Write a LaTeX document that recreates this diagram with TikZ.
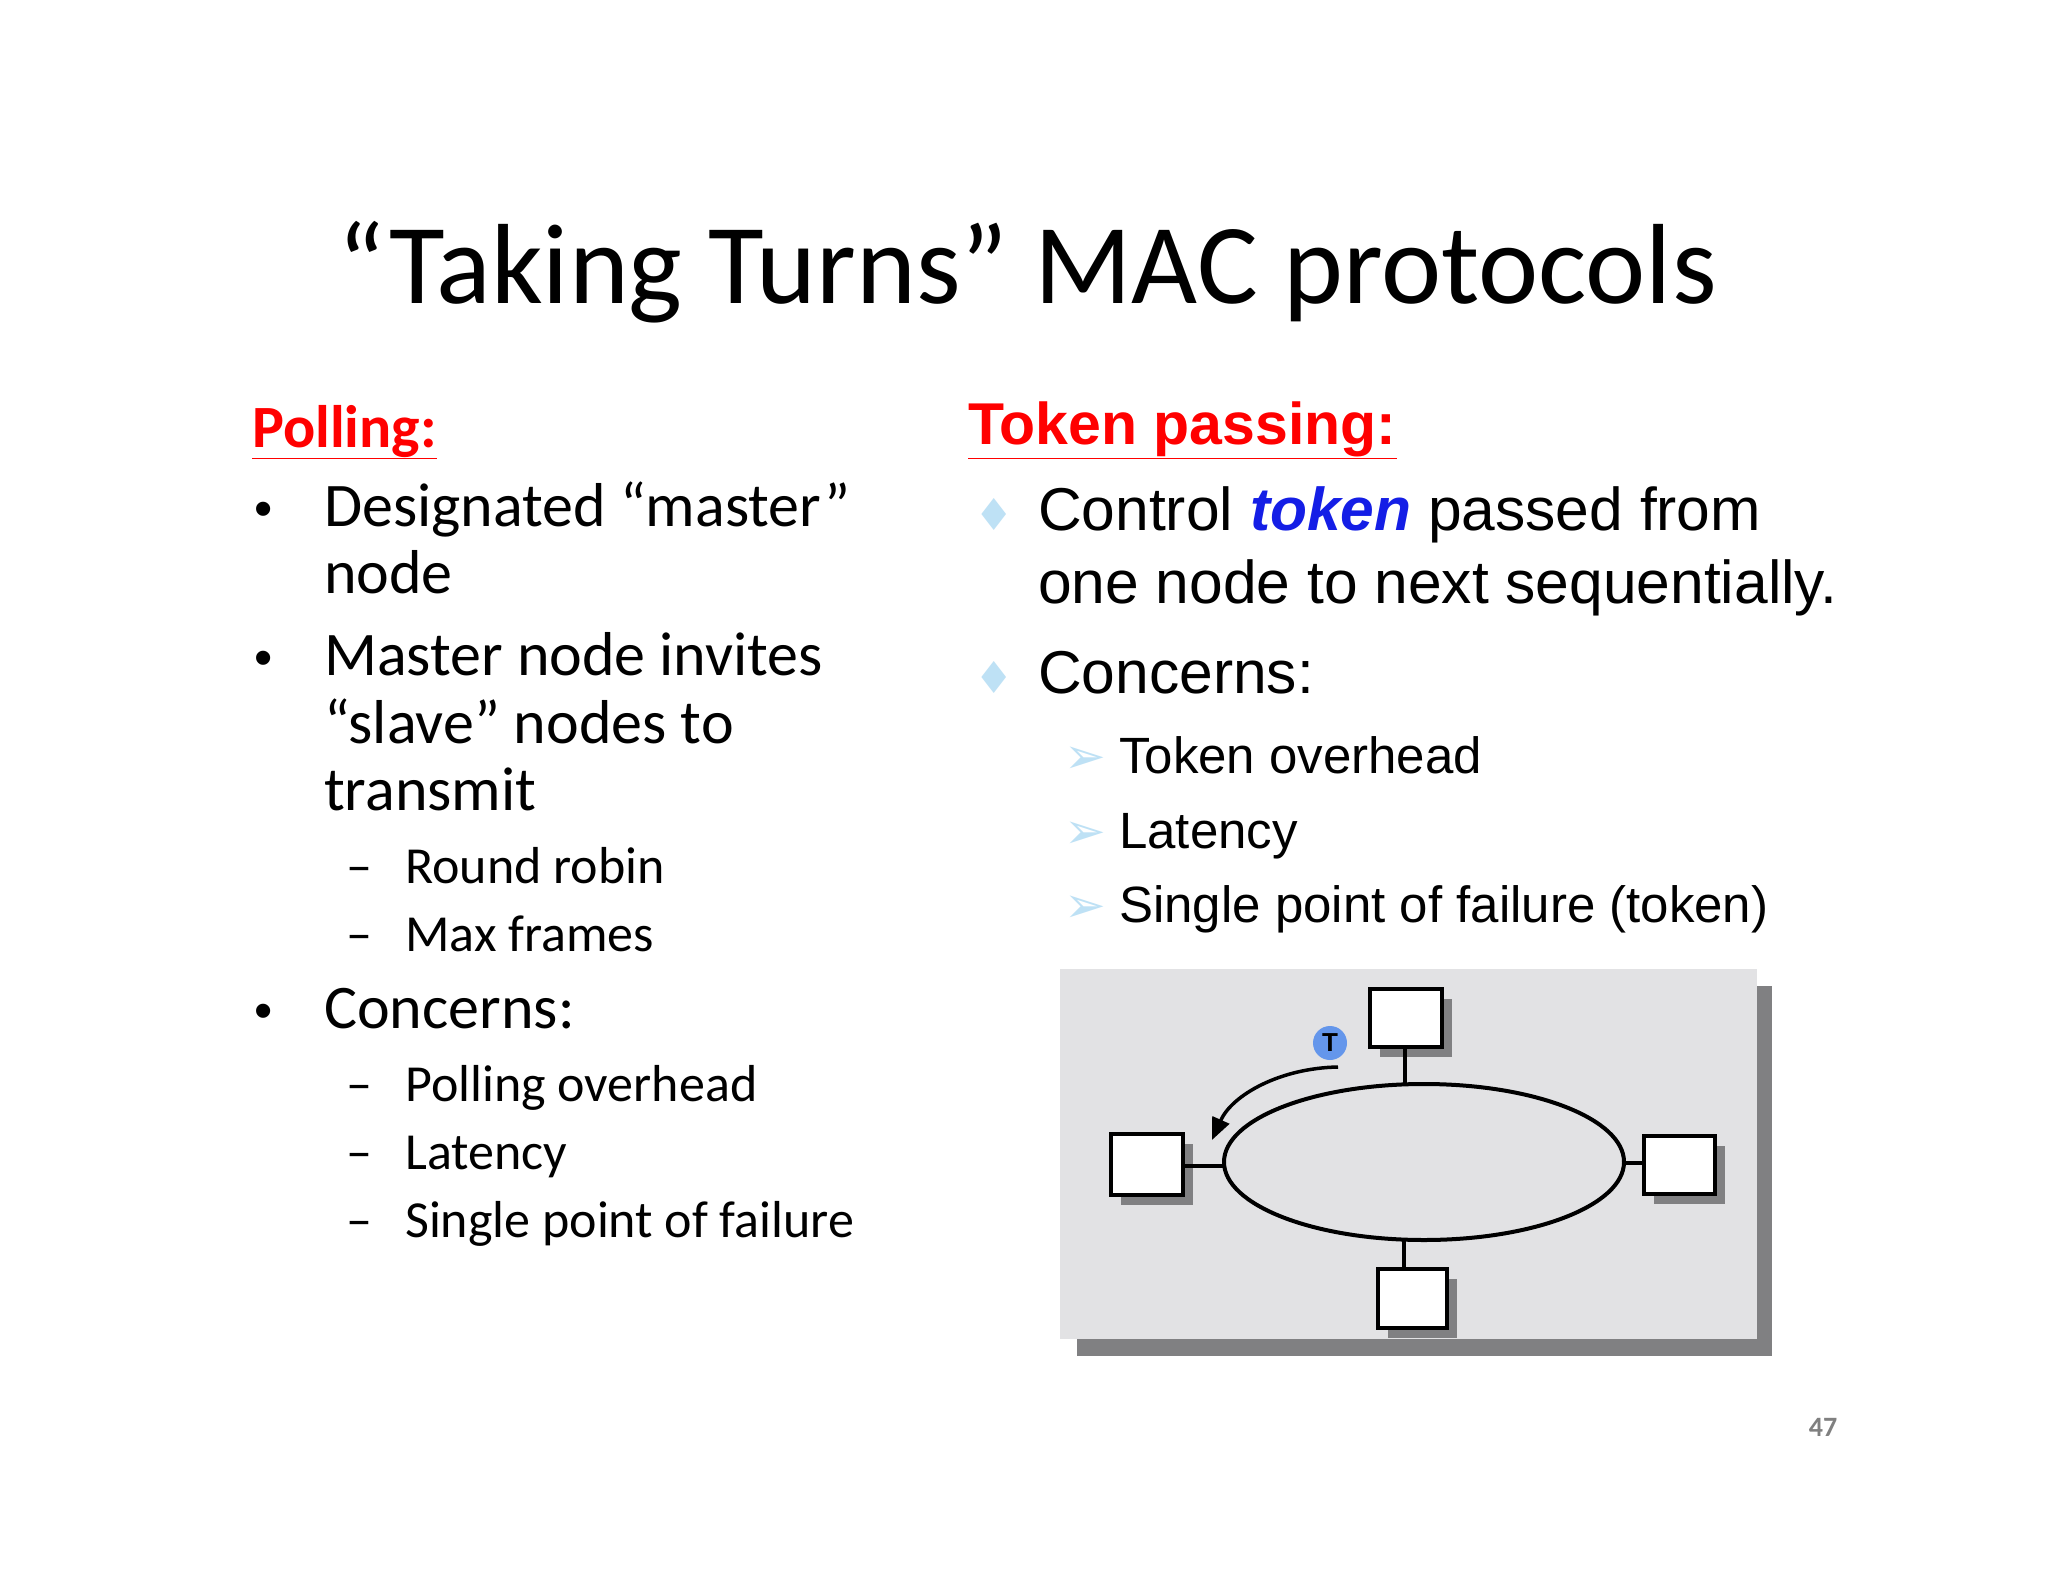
\documentclass[tikz,border=0pt]{standalone}
\usepackage{fontspec}
\setmainfont{Carlito}
\newfontfamily\arfont{Liberation Sans}
\newfontfamily\djfont{DejaVu Sans}
\usetikzlibrary{arrows.meta}
\definecolor{panel}{RGB}{226,226,228}
\definecolor{shadowc}{RGB}{128,128,130}
\definecolor{lblue}{RGB}{190,225,245}
\definecolor{tokblue}{RGB}{20,30,230}
\definecolor{tblue}{RGB}{100,150,235}
\tikzset{
 x=1pt,y=-1pt,
 lt/.style={anchor=base west,inner sep=0,font=\fontsize{62}{70}\selectfont},
 ls/.style={anchor=base west,inner sep=0,font=\fontsize{52}{60}\selectfont},
 rt/.style={anchor=base west,inner sep=0,font=\arfont\fontsize{60.5}{66}\selectfont},
 rs/.style={anchor=base west,inner sep=0,font=\arfont\fontsize{51}{58}\selectfont},
 bul/.style={anchor=base west,inner sep=0,font=\arfont\fontsize{52}{50}\selectfont},
 dia/.style={anchor=base west,inner sep=0,text=lblue,font=\djfont\fontsize{44}{44}\selectfont},
 arw/.style={anchor=base west,inner sep=0,text=lblue,font=\djfont\fontsize{50}{50}\selectfont},
 hd/.style={anchor=base west,inner sep=0,text=red},
 sta/.style={draw=black,line width=4.5pt,fill=white},
 wire/.style={line width=4pt},
}
\begin{document}
\begin{tikzpicture}
\useasboundingbox (0,0) rectangle (2048,1582);
\fill[white] (0,0) rectangle (2048,1582);
% title
\node[anchor=base,inner sep=0,font=\fontsize{114}{130}\selectfont] (title) at (1027,303) {“Taking Turns” MAC protocols};
% left column
\node[hd,font=\bfseries\fontsize{60}{70}\selectfont] (poll) at (252,447) {\underline{Polling:}};
\node[bul] (b1) at (254,526) {•};
\node[lt] (l1) at (324,526) {Designated “master”};
\node[lt] (l2) at (324,593) {node};
\node[bul] (b2) at (254,675) {•};
\node[lt] (l3) at (324,675) {Master node invites};
\node[lt] (l4) at (324,743) {“slave” nodes to};
\node[lt] (l5) at (324,810) {transmit};
\node[ls] (d1) at (346,883) {–};
\node[ls] (s1) at (405,883) {Round robin};
\node[ls] (d2) at (346,951) {–};
\node[ls] (s2) at (405,951) {Max frames};
\node[bul] (b3) at (254,1028) {•};
\node[lt] (l6) at (324,1028) {Concerns:};
\node[ls] (d3) at (346,1101) {–};
\node[ls] (s3) at (405,1101) {Polling overhead};
\node[ls] (d4) at (346,1169) {–};
\node[ls] (s4) at (405,1169) {Latency};
\node[ls] (d5) at (346,1237) {–};
\node[ls] (s5) at (405,1237) {Single point of failure};
% right column
\node[hd,font=\arfont\bfseries\fontsize{59}{66}\selectfont] (tok) at (968,444) {\underline{Token passing:}};
\node[dia] (r1) at (974,530) {♦};
\node[rt] (c1) at (1038,530) {Control \textcolor{tokblue}{\bfseries\itshape token} passed from};
\node[rt] (c2) at (1038,603) {one node to next sequentially.};
\node[dia] (r2) at (974,693) {♦};
\node[rt] (c3) at (1038,693) {Concerns:};
\node[arw] (a1) at (1064,773) {➢};
\node[rs] (t1) at (1119,773) {Token overhead};
\node[arw] (a2) at (1064,848) {➢};
\node[rs] (t2) at (1119,848) {Latency};
\node[arw] (a3) at (1064,922) {➢};
\node[rs] (t3) at (1119,922) {Single point of failure (token)};
% diagram
\fill[shadowc] (1077,986) rectangle (1772,1356);
\fill[panel] (1060,969) rectangle (1757,1339);
\draw[line width=4pt,fill=panel] (1424,1162) ellipse [x radius=200,y radius=78];
\coordinate (etop) at (1405,1085);
\coordinate (ebot) at (1404,1239);
\coordinate (eleft) at (1224,1166);
\coordinate (eright) at (1624,1163);
\foreach \n/\xa/\ya/\xb/\yb in {top/1370/989/1442/1047, lft/1111/1134/1183/1195, rgt/1644/1136/1715/1194, bot/1378/1269/1447/1328}{
  \fill[shadowc] (\xa+10,\ya+10) rectangle (\xb+10,\yb+10);
  \draw[sta] (\xa,\ya) rectangle (\xb,\yb);
  \coordinate (\n) at ({(\xa+\xb)/2},{(\ya+\yb)/2});
}
\draw[wire] (1405,1049) -- (etop);
\draw[wire] (1404,1267) -- (ebot);
\draw[wire] (1185,1166) -- (eleft);
\draw[wire] (1642,1163) -- (eright);
\node[circle,fill=tblue,inner sep=0,minimum size=34pt,font=\arfont\bfseries\fontsize{26}{26}\selectfont] (T) at (1330,1043) {T};
\coordinate (ts) at (1338,1067);
\coordinate (te) at (1212,1140);
\draw[line width=3.5pt,-{Triangle[length=22pt,width=18pt]}] (ts) .. controls (1280,1068) and (1232,1095) .. (te);
% page number
\node[anchor=base,inner sep=0,text=gray,font=\bfseries\fontsize{28}{30}\selectfont] (pg) at (1823,1436) {47};
\end{tikzpicture}
\end{document}
